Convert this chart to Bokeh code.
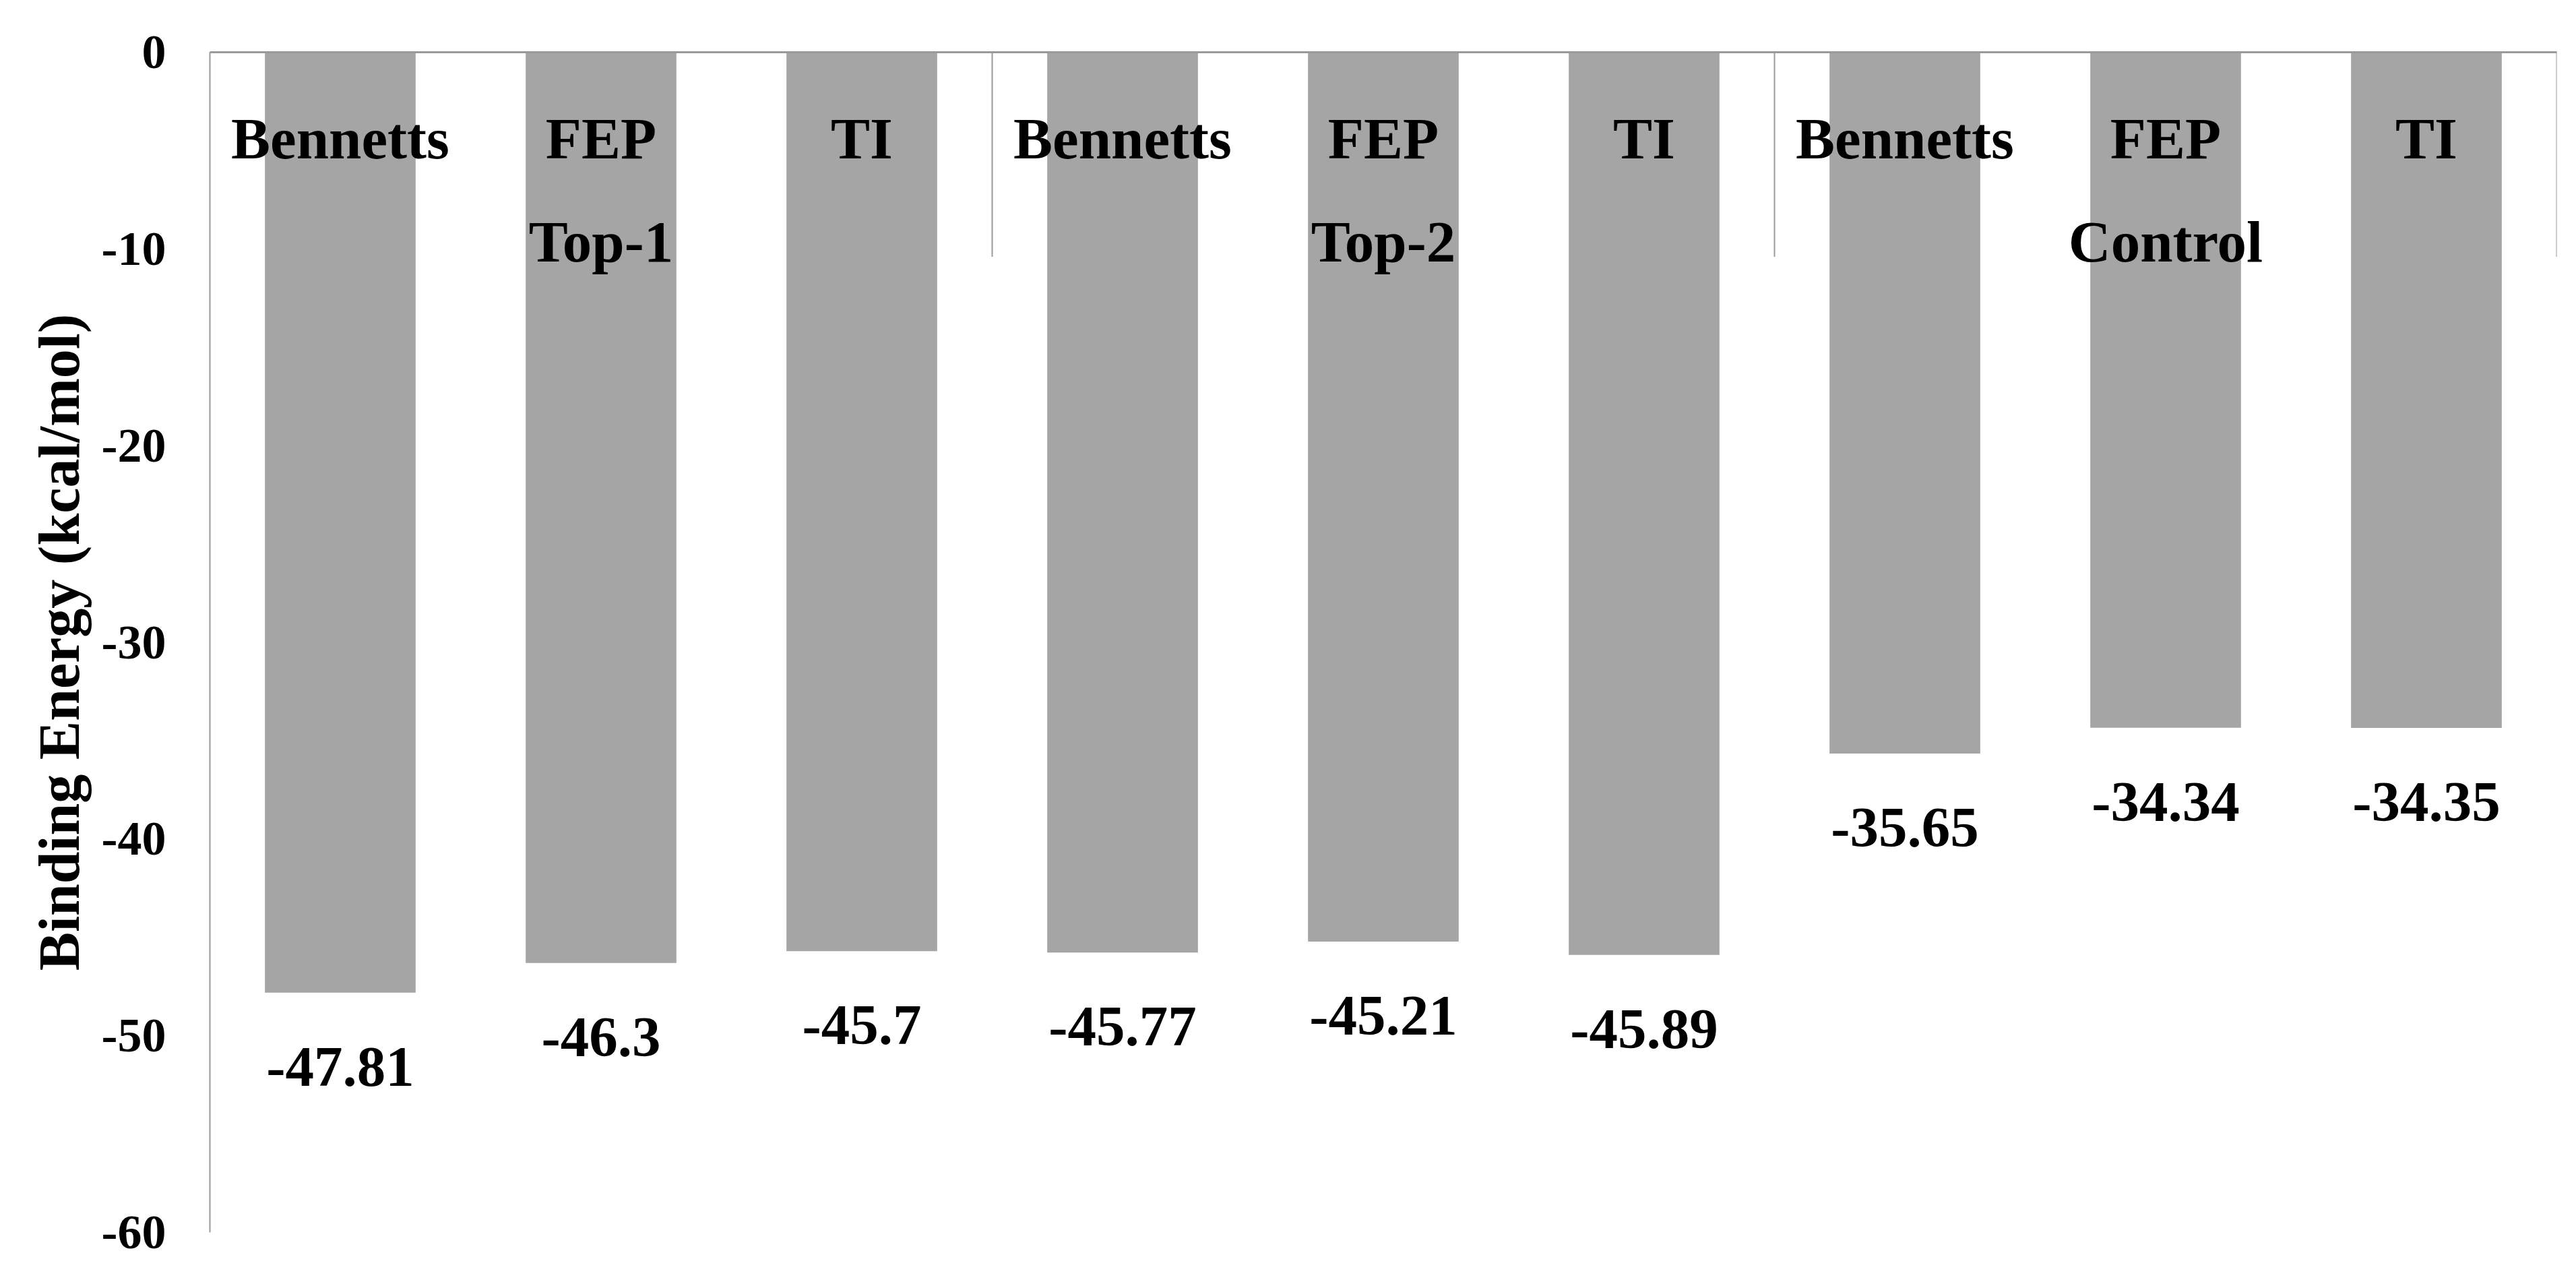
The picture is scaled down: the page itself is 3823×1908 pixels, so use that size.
from bokeh.plotting import figure
from bokeh.models import ColumnDataSource, Range1d, FixedTicker
from bokeh.core.properties import value
from bokeh.embed import file_html
from bokeh.resources import INLINE

# ---- data ----
groups = ["Top-1", "Top-2", "Control"]
methods = ["Bennetts", "FEP", "TI"]
top1 = [-47.81, -46.3, -45.7]
top2 = [-45.77, -45.21, -45.89]
control = [-35.65, -34.34, -34.35]
y_ticks = [0, -10, -20, -30, -40, -50, -60]
y_tick_labels = ["0", "-10", "-20", "-30", "-40", "-50", "-60"]
y_title = "Binding Energy (kcal/mol)"

series = [top1, top2, control]
vals, xs, labs = [], [], []
for gi, s in enumerate(series):
    for mi, v in enumerate(s):
        idx = gi * len(methods) + mi
        xs.append(idx + 0.5)
        vals.append(v)
        labs.append(methods[mi])

n = len(vals)
src = ColumnDataSource(dict(x=xs, v=vals, zero=[0] * n, lab=labs,
                            vtxt=[str(v) for v in vals]))
gsrc = ColumnDataSource(dict(x=[gi * 3 + 1.5 for gi in range(len(groups))],
                             zero=[0] * len(groups), g=groups))
sep_x = [3 * (gi + 1) for gi in range(len(groups))]
ssrc = ColumnDataSource(dict(x=sep_x, y0=[0] * len(sep_x), y1=[-10.4] * len(sep_x)))

FONT = "Liberation Serif"
GRAY = "#9a9a9a"

p = figure(width=3807, height=1892, output_backend="svg", toolbar_location=None,
           x_range=Range1d(0, n), y_range=Range1d(-60, 0), x_axis_location="above",
           min_border_left=311, min_border_right=13, min_border_top=77, min_border_bottom=64)
p.outline_line_color = None
p.grid.visible = False
p.background_fill_color = "white"
p.border_fill_color = "white"

# top axis: line only
p.xaxis.ticker = FixedTicker(ticks=[])
p.xaxis.major_tick_line_color = None
p.xaxis.minor_tick_line_color = None
p.xaxis.major_label_text_font_size = "0px"
p.xaxis.axis_line_color = GRAY
p.xaxis.axis_line_width = 3

# y axis
p.yaxis.ticker = FixedTicker(ticks=y_ticks)
p.yaxis.major_label_overrides = {t: s for t, s in zip(y_ticks, y_tick_labels)}
p.yaxis.major_tick_line_color = None
p.yaxis.minor_tick_line_color = None
p.yaxis.major_tick_out = 0
p.yaxis.major_tick_in = 0
p.yaxis.major_label_standoff = 65
p.yaxis.major_label_text_font = FONT
p.yaxis.major_label_text_font_style = "bold"
p.yaxis.major_label_text_font_size = "72px"
p.yaxis.major_label_text_color = "black"
p.yaxis.axis_line_color = GRAY
p.yaxis.axis_line_width = 2
p.yaxis.axis_label = y_title
p.yaxis.axis_label_text_font = FONT
p.yaxis.axis_label_text_font_style = "bold"
p.yaxis.axis_label_text_font_size = "86px"
p.yaxis.axis_label_text_color = "black"
p.yaxis.axis_label_standoff = 12

p.vbar(x="x", width=0.578, top="zero", bottom="v", source=src,
       fill_color="#a5a5a5", line_color=None)

p.segment(x0="x", y0="y0", x1="x", y1="y1", source=ssrc, line_color=GRAY, line_width=2)

p.text(x="x", y="zero", text="lab", source=src, text_font=value(FONT),
       text_font_style="bold", text_font_size="87px", text_align="center",
       text_baseline="alphabetic", y_offset=128, text_color="black")
p.text(x="x", y="zero", text="g", source=gsrc, text_font=value(FONT),
       text_font_style="bold", text_font_size="87px", text_align="center",
       text_baseline="alphabetic", y_offset=281, text_color="black")
p.text(x="x", y="v", text="vtxt", source=src, text_font=value(FONT),
       text_font_style="bold", text_font_size="85px", text_align="center",
       text_baseline="alphabetic", y_offset=110, text_color="black")

open("out.html", "w").write(file_html(p, INLINE))
